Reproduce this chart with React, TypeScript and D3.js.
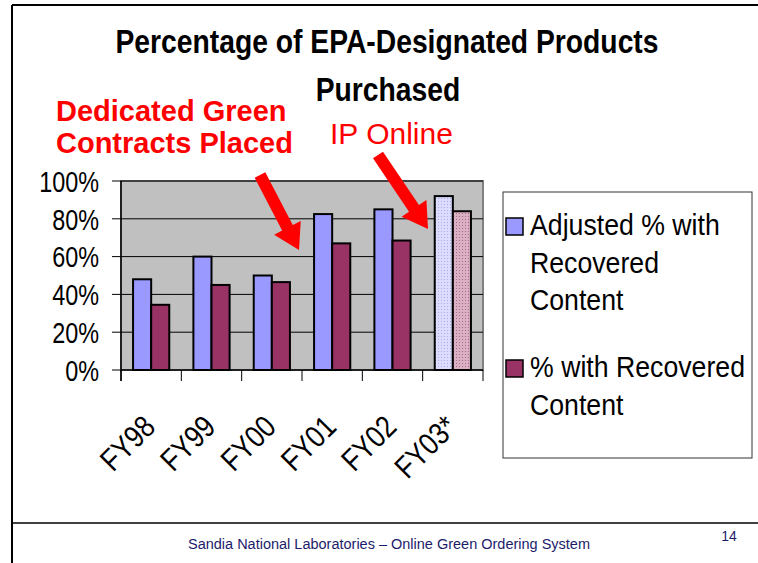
import React from "react";
import * as d3 from "d3";

// chart values
const categories = ["FY98", "FY99", "FY00", "FY01", "FY02", "FY03*"];
const adjustedPct = [48, 60, 50, 82.5, 85, 92];
const recoveredPct = [34.5, 45, 46.5, 67, 68.5, 84];
const seriesNames = ["Adjusted % with Recovered Content", "% with Recovered Content"];
const yTicks = [0, 20, 40, 60, 80, 100];

const W = 758;
const H = 563;
const plot = { left: 121, right: 483, top: 181, bottom: 370 };
const FONT = "Liberation Sans, Arial, Helvetica, sans-serif";

const blue = "#9999ff";
const maroon = "#993366";

// thick red annotation arrow
function arrowPath(x1: number, y1: number, x2: number, y2: number) {
  const shaft = 6, head = 15, headLen = 25;
  const dx = x2 - x1, dy = y2 - y1;
  const len = Math.sqrt(dx * dx + dy * dy);
  const ux = dx / len, uy = dy / len;
  const px = -uy, py = ux;
  const bx = x2 - ux * headLen, by = y2 - uy * headLen;
  const pts = [
    [x1 + px * shaft, y1 + py * shaft],
    [bx + px * shaft, by + py * shaft],
    [bx + px * head, by + py * head],
    [x2, y2],
    [bx - px * head, by - py * head],
    [bx - px * shaft, by - py * shaft],
    [x1 - px * shaft, y1 - py * shaft],
  ];
  return d3.line()(pts as [number, number][]) + "Z";
}

export default function App() {
  const x = d3.scaleBand<string>()
    .domain(categories)
    .range([plot.left, plot.right])
    .paddingInner(0.4)
    .paddingOuter(0.2);
  const xs = d3.scaleBand<number>()
    .domain([0, 1])
    .range([0, x.bandwidth()]);
  const y = d3.scaleLinear().domain([0, 100]).range([plot.bottom, plot.top]);
  const step = x.step();
  const edges = d3.range(categories.length + 1).map(i => plot.left + i * step);

  const last = categories.length - 1;
  const fillFor = (s: number, i: number) => {
    if (i === last) return s === 0 ? "url(#patBlue)" : "url(#patRed)";
    return s === 0 ? blue : maroon;
  };

  const legendLines = [
    ["Adjusted % with", "Recovered", "Content"],
    ["% with Recovered", "Content"],
  ];

  return (
    <svg width={W} height={H} style={{ position: "absolute", left: 0, top: 0, background: "#fff" }}
      fontFamily={FONT}>
      <defs>
        <pattern id="patBlue" width="3" height="3" patternUnits="userSpaceOnUse">
          <rect width="3" height="3" fill="#dcdcff" />
          <rect width="1" height="1" fill="#a9a9f0" />
        </pattern>
        <pattern id="patRed" width="3" height="3" patternUnits="userSpaceOnUse">
          <rect width="3" height="3" fill="#dcb0c4" />
          <rect width="1" height="1" fill="#a86a88" />
        </pattern>
      </defs>

      {/* slide frame */}
      <line x1={12} x2={W} y1={5} y2={5} stroke="#000" strokeWidth={2} />
      <line x1={12} x2={12} y1={5} y2={H} stroke="#000" strokeWidth={2} />
      <line x1={12} x2={W} y1={523} y2={523} stroke="#000" strokeWidth={1.5} />

      {/* title */}
      <text transform="translate(387,53) scale(0.87,1)" textAnchor="middle" fontSize={32.5} fontWeight="bold">
        Percentage of EPA-Designated Products
      </text>
      <text transform="translate(388,101) scale(0.87,1)" textAnchor="middle" fontSize={32.5} fontWeight="bold">
        Purchased
      </text>

      {/* annotations */}
      <text x={56} y={121} fontSize={29} fontWeight="bold" fill="#ff0000">Dedicated Green</text>
      <text x={56} y={153} fontSize={29} fontWeight="bold" fill="#ff0000">Contracts Placed</text>
      <text x={330} y={144} fontSize={30} fill="#ff0000">IP Online</text>

      {/* plot area */}
      <rect x={plot.left} y={plot.top} width={plot.right - plot.left} height={plot.bottom - plot.top}
        fill="#c0c0c0" stroke="#808080" strokeWidth={2} />
      {yTicks.filter(t => t > 0).map(t => (
        <line key={t} x1={plot.left} x2={plot.right} y1={y(t)} y2={y(t)} stroke="#000" strokeWidth={1} />
      ))}

      {/* bars */}
      {categories.map((c, i) => (
        <g key={c}>
          {[adjustedPct[i], recoveredPct[i]].map((v, s) => (
            <rect key={s} x={(x(c) as number) + (xs(s) as number)} y={y(v)}
              width={xs.bandwidth()} height={plot.bottom - y(v)}
              fill={fillFor(s, i)} stroke="#000" strokeWidth={2} />
          ))}
        </g>
      ))}

      {/* axes */}
      <line x1={plot.left} x2={plot.left} y1={plot.top} y2={plot.bottom + 11} stroke="#000" strokeWidth={1.5} />
      <line x1={plot.left} x2={plot.right} y1={plot.bottom} y2={plot.bottom} stroke="#000" strokeWidth={1.5} />
      {yTicks.map(t => (
        <g key={t}>
          <line x1={plot.left - 9} x2={plot.left} y1={y(t)} y2={y(t)} stroke="#000" strokeWidth={1} />
          <text transform={`translate(99,${y(t)}) scale(0.78,1)`} dy="0.36em" textAnchor="end" fontSize={30}>
            {t + "%"}
          </text>
        </g>
      ))}
      {edges.map((e, i) => (
        <line key={i} x1={e} x2={e} y1={plot.bottom} y2={plot.bottom + 11} stroke="#000" strokeWidth={1} />
      ))}
      {categories.map(c => {
        const cx = (x(c) as number) + x.bandwidth() / 2;
        return (
          <text key={c} transform={`translate(${cx - 10},413) rotate(-45) scale(0.84,1)`}
            textAnchor="end" dy="0.72em" fontSize={31}>
            {c}
          </text>
        );
      })}

      {/* arrows */}
      <path d={arrowPath(260, 175, 299, 250)} fill="#ff0000" />
      <path d={arrowPath(378, 155, 428, 229)} fill="#ff0000" />

      {/* legend */}
      <rect x={503} y={192} width={249} height={266} fill="#fff" stroke="#333" strokeWidth={1} />
      {legendLines.map((lines, s) => {
        const top = s === 0 ? 235 : 377;
        return (
          <g key={s}>
            <rect x={506} y={top - 17} width={17} height={17} fill={s === 0 ? blue : maroon}
              stroke="#000" strokeWidth={1.5} />
            {lines.map((ln, j) => (
              <text key={j} transform={`translate(530,${top + j * 37.5}) scale(0.92,1)`} fontSize={29}>
                {ln}
              </text>
            ))}
          </g>
        );
      })}
      <title>{seriesNames.join(" / ")}</title>

      {/* footer */}
      <text x={389} y={549} textAnchor="middle" fontSize={14} fill="#1c1c6b" textLength={402}
        lengthAdjust="spacingAndGlyphs">
        Sandia National Laboratories – Online Green Ordering System
      </text>
      <text x={729} y={541} textAnchor="middle" fontSize={14} fill="#1c1c6b">14</text>
    </svg>
  );
}
